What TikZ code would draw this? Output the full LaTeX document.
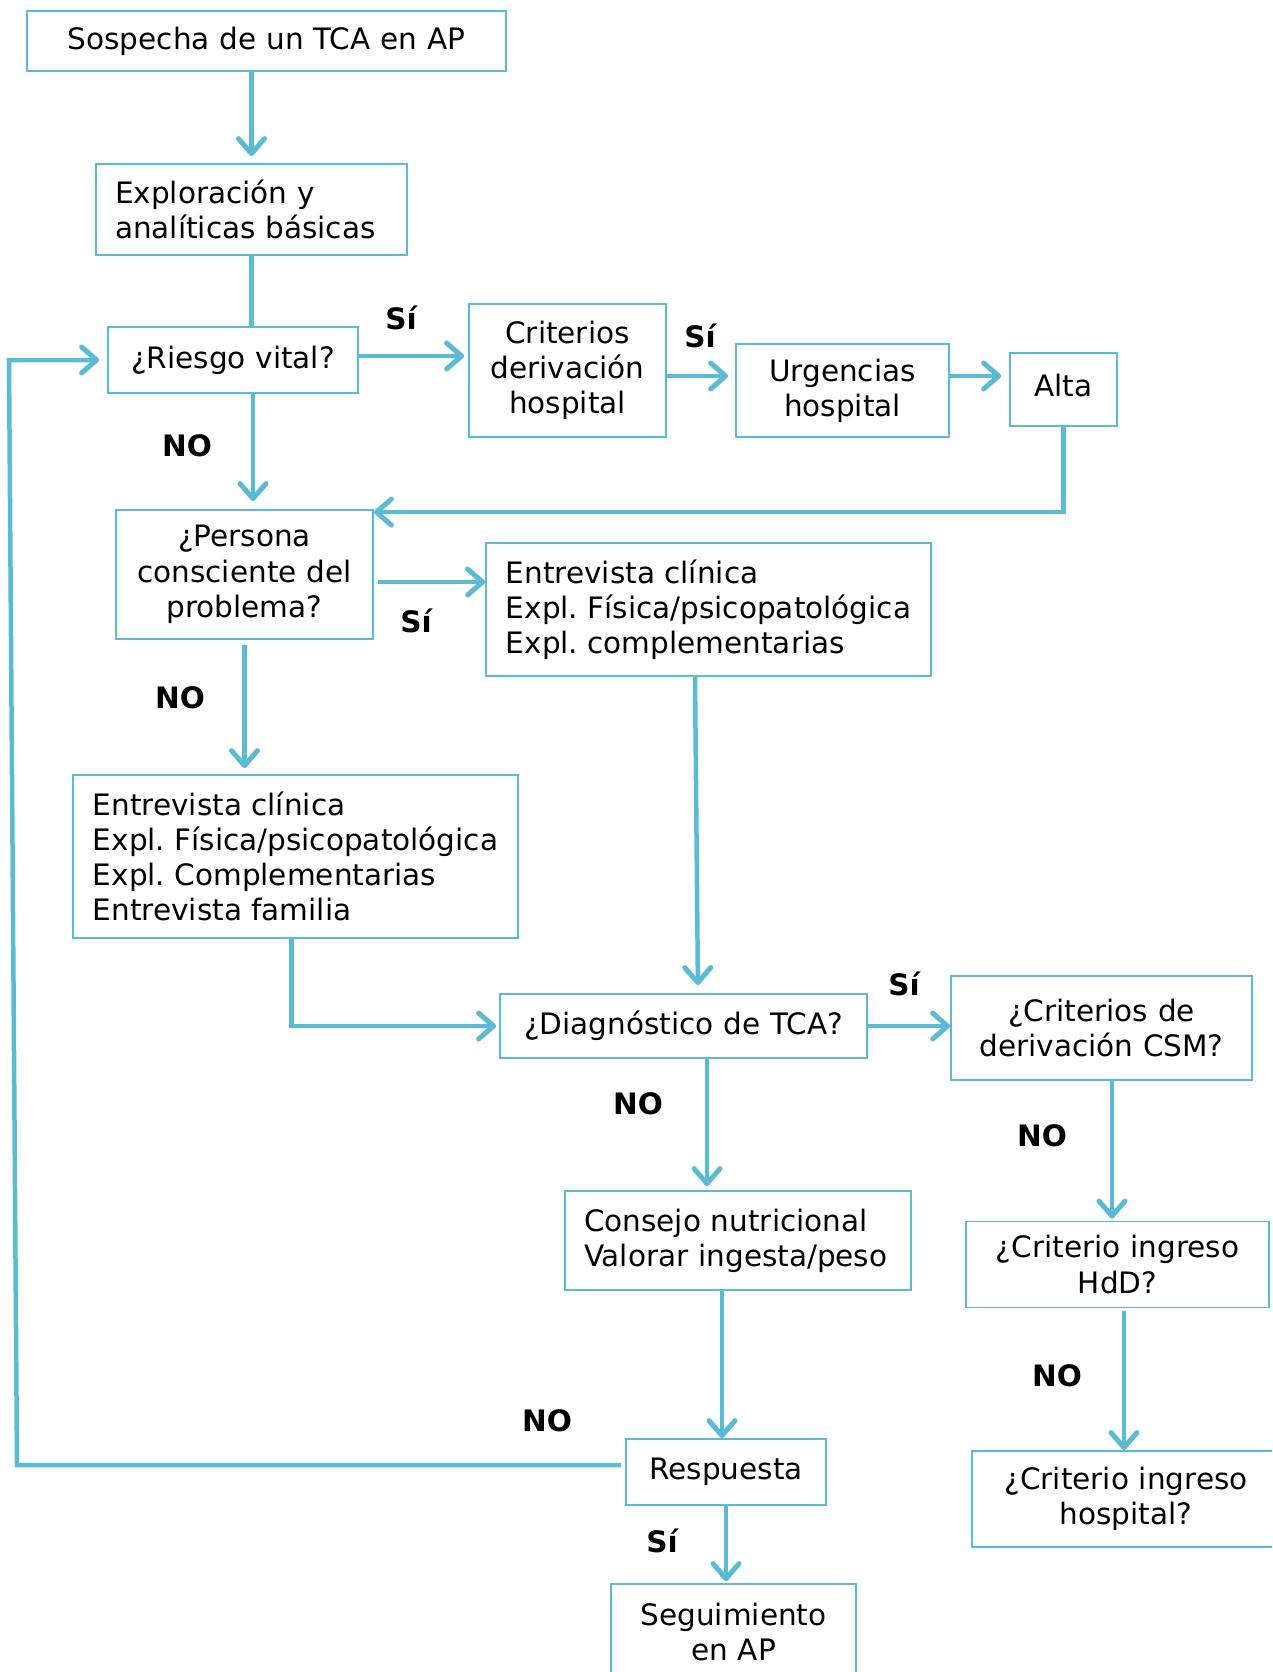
\documentclass[tikz,border=0pt]{standalone}
\usepackage{fontspec}
\setmainfont{DejaVu Sans}
\usepackage{xcolor}
\usepackage{tikz}
\usetikzlibrary{positioning,calc,arrows.meta}
\definecolor{tcablue}{RGB}{91,187,212}
\frenchspacing

\begin{document}
\begin{tikzpicture}[x=1pt, y=-1pt,
    font=\fontsize{29.5}{35.2}\selectfont,
    box/.style={draw=tcablue, line width=1.8pt, inner sep=0pt, align=center},
    lbox/.style={box, align=left},
    link/.style={draw=tcablue, line width=4.5pt},
    arr/.style={link, -{Straight Barb[length=15pt,width=26pt,line width=5pt,round]}},
    answer/.style={font=\fontsize{29.5}{35.2}\selectfont\bfseries}]
    \clip (0,0) rectangle (1272,1672);

    % Boxes
    \node[box, minimum width=479, minimum height=60, text width=440pt] (sospecha) at (266.5,41) {Sospecha de un TCA en AP};
    \node[lbox, minimum width=311, minimum height=91, text width=273pt] (explor) at (251.5,209.5) {Exploración y\\analíticas básicas};
    \node[box, minimum width=250, minimum height=66, text width=230pt] (riesgo) at (233,360) {¿Riesgo vital?};
    \node[box, minimum width=197, minimum height=133, text width=180pt] (crit) at (567.5,370.5) {Criterios\\derivación\\hospital};
    \node[box, minimum width=213, minimum height=93, text width=195pt] (urg) at (842.5,390.5) {Urgencias\\hospital};
    \node[box, minimum width=107, minimum height=73, text width=95pt, text depth=8pt] (alta) at (1063.5,389.5) {Alta};
    \node[box, minimum width=257, minimum height=129, text width=240pt] (persona) at (244.5,574.5) {¿Persona\\consciente del\\problema?};
    \node[lbox, minimum width=445, minimum height=133] (entrev1) at (708.5,609.5) {Entrevista clínica\\Expl. Física/psicopatológica\\Expl. complementarias};
    \node[lbox, minimum width=445, minimum height=163] (entrev2) at (295.5,856.5) {Entrevista clínica\\Expl. Física/psicopatológica\\Expl. Complementarias\\Entrevista familia};
    \node[box, minimum width=367, minimum height=64, text width=350pt] (diag) at (683.5,1026) {¿Diagnóstico de TCA?};
    \node[box, minimum width=301, minimum height=104, text width=285pt] (csm) at (1101.5,1028) {¿Criterios de\\derivación CSM?};
    \node[lbox, minimum width=346, minimum height=99, text width=308pt] (consejo) at (738,1240.5) {Consejo nutricional\\Valorar ingesta/peso};
    \node[box, minimum width=303, minimum height=86, text width=285pt] (hdd) at (1117.5,1264.5) {¿Criterio ingreso\\HdD?};
    \node[box, minimum width=200, minimum height=66, text width=185pt] (resp) at (726,1472) {Respuesta};
    \node[box, minimum width=308, minimum height=96, text width=290pt] (crithosp) at (1126,1499) {¿Criterio ingreso\\hospital?};
    \node[box, minimum width=245, minimum height=96, text width=230pt] (seguim) at (733.5,1632) {Seguimiento\\en AP};

    % Arrows
    \draw[arr, shorten >=7pt] (sospecha.south -| explor.north) -- (explor.north);
    \draw[link] (explor.south) -- (explor.south |- riesgo.north);
    \draw[arr, shorten >=4pt] ([yshift=4pt]riesgo.east) -- ([yshift=4pt]riesgo.east -| crit.west);
    \draw[arr, shorten >=7pt] ([yshift=-5.5pt]crit.east) -- ([yshift=-5.5pt]crit.east -| urg.west);
    \draw[arr, shorten >=8pt] ([yshift=14.5pt]urg.east) -- ([yshift=14.5pt]urg.east -| alta.west);
    \draw[arr] (alta.south) |- ([yshift=-3pt]persona.north east);
    \draw[arr, shorten >=8pt] ([xshift=20pt]riesgo.south) -- ([xshift=20pt]riesgo.south |- persona.north);
    \draw[arr, shorten <=4pt] ([yshift=-7.5pt]persona.east) -- ([yshift=-7.5pt]persona.east -| entrev1.west);
    \draw[arr, shorten <=5pt, shorten >=6pt] (persona.south) -- (persona.south |- entrev2.north);
    \draw[arr, shorten >=8pt] ([xshift=-13.5pt]entrev1.south) -- ([xshift=14.5pt]diag.north);
    \draw[arr, shorten >=3pt] ([xshift=-4pt]entrev2.south) |- (diag.west);
    \draw[arr] (diag.east) -- (diag.east -| csm.west);
    \draw[arr, shorten >=4pt] ([xshift=23.5pt]diag.south) -- ([xshift=23.5pt]diag.south |- consejo.north);
    \draw[arr, shorten >=2pt] ([xshift=10.5pt]csm.south) -- ([xshift=10.5pt]csm.south |- hdd.north);
    \draw[arr, shorten <=3pt] ([xshift=6.5pt]hdd.south) -- ([xshift=6.5pt]hdd.south |- crithosp.north);
    \draw[arr] ([xshift=-16pt]consejo.south) -- ([xshift=-16pt]consejo.south |- resp.north);
    \draw[arr, shorten >=2pt] (resp.south) -- (resp.south |- seguim.north);

    % Back to the start
    \coordinate (loopbot) at (17,1465);
    \coordinate (looptop) at (9,360);
    \draw[arr, shorten <=4pt, shorten >=8pt] ([yshift=7pt]resp.west) -- (loopbot) -- (looptop) -- (riesgo.west);

    % Answers
    \node[answer] (si-riesgo) at (401,318) {Sí};
    \node[answer] (si-crit) at (700,336) {Sí};
    \node[answer] (no-riesgo) at (187,446) {NO};
    \node[answer] (si-persona) at (416,621) {Sí};
    \node[answer] (no-persona) at (180,698) {NO};
    \node[answer] (si-diag) at (904,984) {Sí};
    \node[answer] (no-diag) at (638,1104) {NO};
    \node[answer] (no-csm) at (1042,1136) {NO};
    \node[answer] (no-hdd) at (1057,1376) {NO};
    \node[answer] (no-resp) at (547,1421) {NO};
    \node[answer] (si-resp) at (662,1541) {Sí};
\end{tikzpicture}
\end{document}
